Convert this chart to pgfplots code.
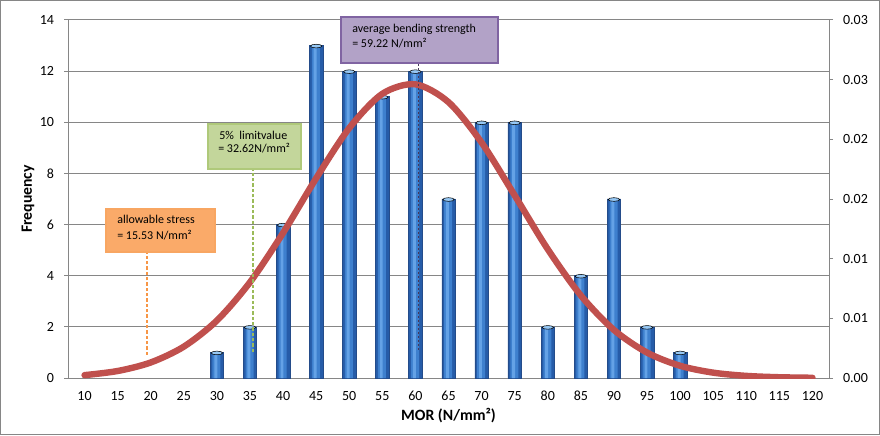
\documentclass[border=0pt]{standalone}
\usepackage{pgfplots}
\usepackage{pgfplotstable}
\pgfplotsset{compat=1.18}
\usepackage{fontspec}
\setmainfont{Carlito}
\definecolor{gridgray}{RGB}{134,134,134}
\definecolor{barDark}{RGB}{38,92,168}
\definecolor{barMid}{RGB}{62,128,206}
\definecolor{barLight}{RGB}{100,162,230}
\definecolor{barCap}{RGB}{150,200,245}
\definecolor{barEdge}{RGB}{36,76,138}
\definecolor{curveRed}{RGB}{192,80,77}
\definecolor{orFill}{RGB}{250,170,105}
\definecolor{orLine}{RGB}{247,150,70}
\definecolor{grFill}{RGB}{195,214,155}
\definecolor{grLine}{RGB}{155,187,89}
\definecolor{puFill}{RGB}{178,162,199}
\definecolor{puLine}{RGB}{128,100,162}

\pgfplotstableread{
mor freq
30 1
35 2
40 6
45 13
50 12
55 11
60 12
65 7
70 10
75 10
80 2
85 4
90 7
95 2
100 1
}\freqtable

\pgfplotstableread{
mor density
10 0.000240
15 0.000586
20 0.001301
25 0.002627
30 0.004815
35 0.008025
40 0.012158
45 0.016738
50 0.020942
55 0.023815
60 0.024611
65 0.023115
70 0.019729
75 0.015304
80 0.010790
85 0.006914
90 0.004026
95 0.002131
100 0.001024
105 0.000448
110 0.000178
115 0.000064
120 0.000021
}\normtable

\begin{document}
\begin{tikzpicture}
\useasboundingbox (0,0) rectangle (660pt,326.25pt);
\fill[white] (0,0) rectangle (660pt,326.25pt);
\draw[gridgray, line width=0.75pt] (0.5pt,0.5pt) rectangle (659.5pt,325.75pt);

\begin{axis}[
  at={(51pt,42.75pt)}, anchor=south west,
  scale only axis, width=570.75pt, height=268.5pt,
  xmin=7.5, xmax=122.5, ymin=0, ymax=14,
  xtick={10,15,...,120}, ytick={0,2,...,14},
  axis y line*=left, axis x line*=bottom,
  axis line style={gridgray, line width=0.75pt, -},
  ymajorgrids, grid style={gridgray, line width=0.75pt},
  major tick style={gridgray, line width=0.75pt},
  tick align=outside, major tick length=3pt,
  xtick style={draw=none},
  ticklabel style={font=\fontsize{10.5}{12}\selectfont},
  yticklabel style={xshift=-4pt},
  xticklabel style={yshift=-3.5pt},
  /pgf/number format/assume math mode=true,
  xlabel={MOR (N/mm²)}, ylabel={Frequency},
  label style={font=\bfseries\fontsize{11.8}{14}\selectfont},
  xlabel style={at={(axis description cs:0.5,-0.1061)}, anchor=center},
  ylabel style={at={(axis description cs:-0.0526,0.5)}, anchor=center},
]
\addplot[ybar, bar width=10.1pt, bar shift=0pt, draw=barEdge, line width=0.4pt, fill=barDark]
  table[x=mor, y=freq] {\freqtable};
\addplot[ybar, bar width=6pt, bar shift=-0.3pt, draw=none, fill=barMid]
  table[x=mor, y=freq] {\freqtable};
\addplot[ybar, bar width=2.2pt, bar shift=-0.8pt, draw=none, fill=barLight]
  table[x=mor, y=freq] {\freqtable};
\addplot[only marks, mark=*, mark size=4.3pt,
  mark options={yscale=0.32, yshift=-1.2pt, fill=barCap, draw=none}]
  table[x=mor, y=freq] {\freqtable};
\end{axis}

\begin{axis}[
  at={(51pt,42.75pt)}, anchor=south west,
  scale only axis, width=570.75pt, height=268.5pt,
  xmin=7.5, xmax=122.5, ymin=0, ymax=0.03,
  axis y line*=right, axis x line=none,
  axis line style={gridgray, line width=0.75pt, -},
  ytick={0,0.005,0.01,0.015,0.02,0.025,0.03},
  yticklabels={0.00,0.01,0.01,0.02,0.02,0.03,0.03},
  scaled y ticks=false,
  major tick style={gridgray, line width=0.75pt},
  tick align=outside, major tick length=3pt,
  ticklabel style={font=\fontsize{10.5}{12}\selectfont},
  yticklabel style={xshift=4pt},
]
\addplot[curveRed, line width=4.8pt, line cap=round, smooth]
  table[x=mor, y=density] {\normtable};
\end{axis}

\begin{scope}[x=0.75pt, y=0.75pt, font=\fontsize{9}{11}\selectfont]
  % allowable stress
  \draw[orLine, line width=1.5pt, dash pattern=on 2.5pt off 1.5pt] (147,80) -- (147,183);
  \draw[fill=orFill, draw=orLine!85!white, line width=1.2pt] (106,183) rectangle (215,226);
  \node[anchor=base west, inner sep=0pt] at (117,211) {allowable stress};
  \node[anchor=base west, inner sep=0pt] at (117,195) {= 15.53 N/mm²};
  % 5% limit value
  \draw[grLine, line width=1.5pt, dash pattern=on 2.5pt off 1.5pt] (253,83) -- (253,266);
  \draw[fill=grFill, draw=grLine!80!white, line width=1.2pt] (208,266) rectangle (301,311);
  \node[anchor=base west, inner sep=0pt] at (219,295) {5\%\ \ limitvalue};
  \node[anchor=base west, inner sep=0pt] at (218,282) {= 32.62N/mm²};
  % average
  \draw[black!45!puLine, line width=0.75pt, dash pattern=on 1.5pt off 1.5pt] (418,85) -- (418,372);
  \draw[fill=puFill, draw=puLine, line width=1.6pt] (341,372) rectangle (498,418);
  \node[anchor=base west, inner sep=0pt] at (352,402) {average bending strength};
  \node[anchor=base west, inner sep=0pt] at (352,387) {= 59.22 N/mm²};
\end{scope}
\end{tikzpicture}
\end{document}
